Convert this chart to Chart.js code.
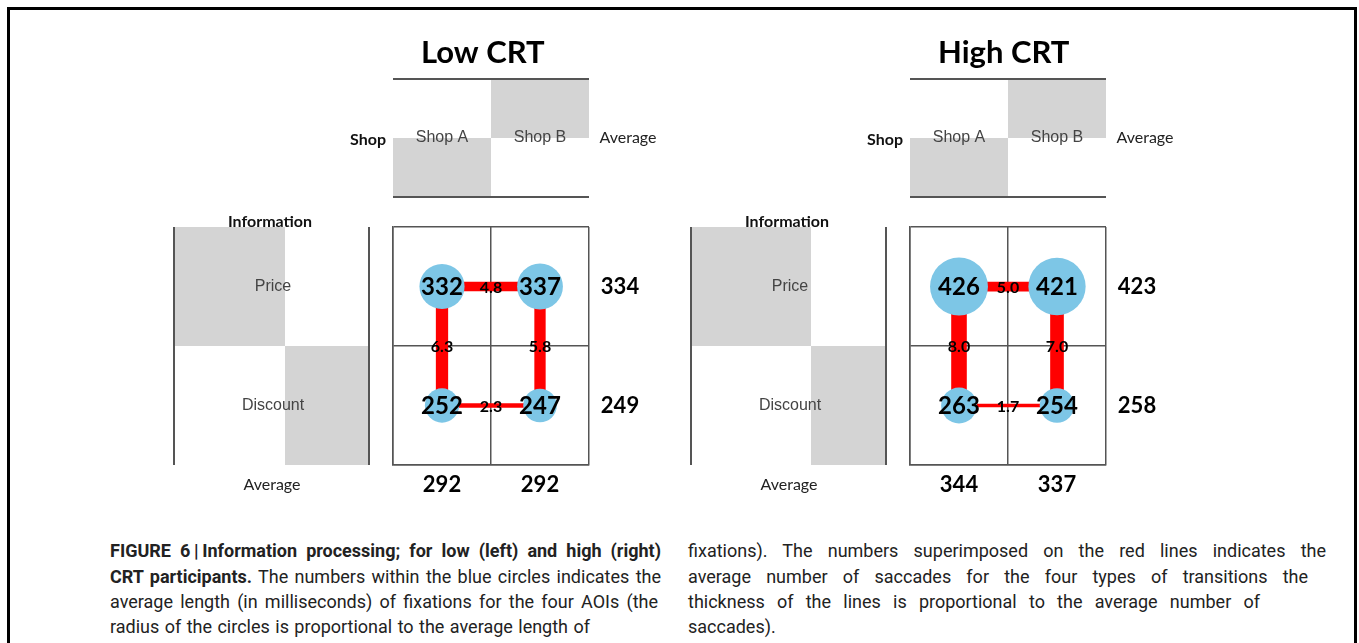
<!DOCTYPE html>
<html>
<head>
<meta charset="utf-8">
<script src="https://cdn.jsdelivr.net/npm/chart.js@4.4.1/dist/chart.umd.min.js"></script>
<style>
  html, body { margin: 0; padding: 0; background: #fff; }
  body { width: 1359px; height: 643px; position: relative; overflow: hidden; }
  #frame { position: absolute; left: 7px; top: 7px; width: 1344px; height: 700px; border: 3px solid #000; border-bottom: none; }
  canvas { position: absolute; top: 0; }
  #lowChart { left: 150px; }
  #highChart { left: 667px; }
  .cap { position: absolute; font: 18px "Liberation Sans Narrow", "Roboto", sans-serif; color: #222; white-space: nowrap; line-height: 20px; transform-origin: 0 50%; }
</style>
</head>
<body>
<div id="frame"></div>
<canvas id="lowChart" width="530" height="510"></canvas>
<canvas id="highChart" width="530" height="510"></canvas>

<div class="cap" data-w="551" style="left:110px;top:541px"><b>FIGURE 6&#8201;|&#8201;Information processing; for low (left) and high (right)</b></div>
<div class="cap" data-w="551" style="left:110px;top:567px"><b>CRT participants.</b> The numbers within the blue circles indicates the</div>
<div class="cap" data-w="548" style="left:110px;top:592px">average length (in milliseconds) of fixations for the four AOIs (the</div>
<div class="cap" data-w="480" style="left:110px;top:617px">radius of the circles is proportional to the average length of</div>
<div class="cap" data-w="638" style="left:688px;top:541px">fixations). The numbers superimposed on the red lines indicates the</div>
<div class="cap" data-w="620" style="left:688px;top:567px">average number of saccades for the four types of transitions the</div>
<div class="cap" data-w="572" style="left:688px;top:592px">thickness of the lines is proportional to the average number of</div>
<div class="cap" style="left:688px;top:617px">saccades).</div>

<script>
const shops = ["Shop A", "Shop B"];
const infoRows = ["Price", "Discount"];

// average fixation length (ms), [Shop A, Shop B]
const lowPrice = [332, 337];
const lowDiscount = [252, 247];
const lowRowAvg = [334, 249];
const lowColAvg = [292, 292];
// average saccades: [Price A-B, Discount A-B, Shop A Price-Discount, Shop B Price-Discount]
const lowSaccades = [4.8, 2.3, 6.3, 5.8];

const highPrice = [426, 421];
const highDiscount = [263, 254];
const highRowAvg = [423, 258];
const highColAvg = [344, 337];
const highSaccades = [5.0, 1.7, 8.0, 7.0];

// transitions as [col, row] -> [col, row]
const links = [[0, 0, 1, 0], [0, 1, 1, 1], [0, 0, 0, 1], [1, 0, 1, 1]];

const LATO = "Lato, 'Open Sans', sans-serif";
const ARIAL = "'Liberation Sans', Arial, sans-serif";

function buildDatasets(price, discount, saccades) {
  const pts = [];
  [price, discount].forEach((row, r) => {
    row.forEach((v, c) => pts.push({ x: c + 0.5, y: r + 0.5, r: v * 0.068, v: v }));
  });
  const ds = [{
    type: "bubble",
    data: pts,
    backgroundColor: "rgb(125,198,230)",
    borderWidth: 0,
    order: 0,
    clip: false,
  }];
  links.forEach((l, i) => {
    ds.push({
      type: "line",
      data: [{ x: l[0] + 0.5, y: l[1] + 0.5 }, { x: l[2] + 0.5, y: l[3] + 0.5 }],
      borderColor: "#ff0000",
      borderWidth: saccades[i] * 1.95,
      borderCapStyle: "butt",
      pointRadius: 0,
      order: 1,
      clip: false,
      v: saccades[i],
    });
  });
  return ds;
}

function text(ctx, str, x, y, font, color, align) {
  ctx.font = font;
  ctx.fillStyle = color || "#000";
  ctx.textAlign = align || "center";
  ctx.textBaseline = "middle";
  ctx.fillText(str, x, y);
}

function hline(ctx, x1, y1, x2, y2) {
  ctx.beginPath();
  ctx.moveTo(x1, y1);
  ctx.lineTo(x2, y2);
  ctx.stroke();
}

const decor = {
  id: "decor",
  beforeDraw(chart, args, o) {
    const ctx = chart.ctx, a = chart.chartArea;
    const xMid = chart.scales.x.getPixelForValue(1);
    const yMid = chart.scales.y.getPixelForValue(1);
    ctx.save();
    ctx.fillStyle = "#d4d4d4";
    // shop header boxes
    ctx.fillRect(a.left, a.top - 89, xMid - a.left, 59);
    ctx.fillRect(xMid, a.top - 148, a.right - xMid, 59);
    // information boxes
    const il = a.left - 219, ir = a.left - 24, is = a.left + o.split;
    ctx.fillRect(il, a.top, is - il, yMid - a.top);
    ctx.fillRect(is, yMid, ir - is, a.bottom - yMid);
    ctx.strokeStyle = "#555";
    ctx.lineWidth = 2;
    hline(ctx, a.left, a.top - 148, a.right, a.top - 148);
    hline(ctx, a.left, a.top - 30, a.right, a.top - 30);
    hline(ctx, il, a.top, il, a.bottom);
    hline(ctx, ir, a.top, ir, a.bottom);
    ctx.restore();
  },
  afterDraw(chart, args, o) {
    const ctx = chart.ctx, a = chart.chartArea;
    const xs = chart.scales.x, ys = chart.scales.y;
    ctx.save();
    text(ctx, o.title, a.left + 28, a.top - 174, "bold 31px " + LATO, "#000", "left");
    text(ctx, "Shop", a.left - 25, a.top - 87, "bold 16px " + LATO, "#111");
    shops.forEach((s, i) => text(ctx, s, xs.getPixelForValue(i + 0.5), a.top - 89, "16px " + ARIAL, "#444"));
    text(ctx, "Average", a.left + 235, a.top - 89, "16px " + LATO, "#222");
    text(ctx, "Information", a.left - 123, a.top - 5, "bold 16px " + LATO, "#111");
    infoRows.forEach((s, i) => text(ctx, s, a.left - 120, ys.getPixelForValue(i + 0.5), "16px " + ARIAL, "#444"));
    text(ctx, "Average", a.left - 121, a.bottom + 20, "16px " + LATO, "#222");
    o.rowAvg.forEach((v, i) => text(ctx, String(v), a.left + 227, ys.getPixelForValue(i + 0.5), "bold 22px " + LATO, "#000"));
    o.colAvg.forEach((v, i) => text(ctx, String(v), xs.getPixelForValue(i + 0.5), a.bottom + 20, "bold 22px " + LATO, "#000"));

    // saccade labels on the red lines
    chart.data.datasets.forEach((d, di) => {
      if (d.type !== "line") return;
      const pts = chart.getDatasetMeta(di).data;
      const mx = (pts[0].x + pts[1].x) / 2, my = (pts[0].y + pts[1].y) / 2;
      text(ctx, d.v.toFixed(1), mx, my + 1, "bold 16px " + LATO, "#000");
    });
    // fixation labels in the circles
    const bub = chart.getDatasetMeta(0).data;
    chart.data.datasets[0].data.forEach((p, i) => {
      text(ctx, String(p.v), bub[i].x, bub[i].y + 1, "bold 24px " + LATO, "#000");
    });
    ctx.restore();
  },
};

function makePanel(id, title, price, discount, rowAvg, colAvg, saccades, split) {
  const canvas = document.getElementById(id);
  return new Chart(canvas, {
    type: "bubble",
    data: { datasets: buildDatasets(price, discount, saccades) },
    options: {
      responsive: false,
      animation: false,
      events: [],
      layout: { padding: { left: 243, right: 91, top: 227, bottom: 45 } },
      plugins: {
        legend: { display: false },
        tooltip: { enabled: false },
        decor: { title: title, rowAvg: rowAvg, colAvg: colAvg, split: split },
      },
      scales: {
        x: {
          type: "linear", min: 0, max: 2,
          ticks: { display: false, stepSize: 1 },
          grid: { color: "#555", lineWidth: 1.5, drawTicks: false },
          border: { display: true, color: "#555", width: 1.5 },
        },
        y: {
          type: "linear", min: 0, max: 2, reverse: true,
          ticks: { display: false, stepSize: 1 },
          grid: { color: "#555", lineWidth: 1.5, drawTicks: false },
          border: { display: true, color: "#555", width: 1.5 },
        },
      },
    },
    plugins: [decor],
  });
}

function fitCaption() {
  document.querySelectorAll(".cap").forEach((el) => {
    const w = parseFloat(el.dataset.w || "0");
    if (!w) return;
    const natural = el.getBoundingClientRect().width;
    const spaces = (el.textContent.match(/ /g) || []).length;
    if (natural > w) {
      el.style.transform = "scaleX(" + (w / natural) + ")";
    } else if (spaces) {
      el.style.wordSpacing = ((w - natural) / spaces) + "px";
    }
  });
}

function init() {
  makePanel("lowChart", "Low CRT", lowPrice, lowDiscount, lowRowAvg, lowColAvg, lowSaccades, -108);
  makePanel("highChart", "High CRT", highPrice, highDiscount, highRowAvg, highColAvg, highSaccades, -99);
  fitCaption();
}

if (document.fonts && document.fonts.ready) {
  document.fonts.load("bold 16px Lato").then(() => document.fonts.ready).then(init, init);
} else {
  init();
}
</script>
</body>
</html>
